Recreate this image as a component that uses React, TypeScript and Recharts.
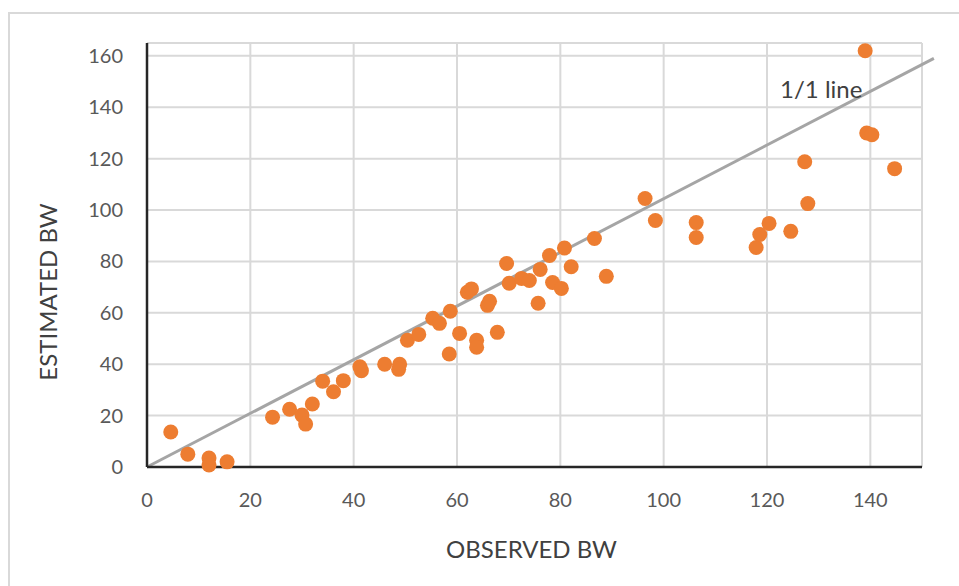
import React from "react";
import {
  ScatterChart,
  Scatter,
  XAxis,
  YAxis,
  CartesianGrid,
  ReferenceLine,
  ReferenceDot,
} from "recharts";

const observedBW = [
  4.6, 7.9, 12.0, 12.0, 15.5, 24.3, 27.6, 30.0, 30.7, 32.0, 34.0, 36.1, 38.0,
  41.2, 41.5, 46.0, 48.9, 48.7, 50.4, 52.6, 55.3, 56.6, 58.7, 58.5, 60.5, 62.0,
  62.8, 63.8, 63.8, 65.9, 66.3, 67.8, 69.6, 70.1, 72.5, 74.0, 75.7, 76.1, 77.9,
  78.5, 80.2, 80.8, 82.1, 86.6, 88.9, 96.4, 98.4, 106.3, 106.3, 117.9, 118.6,
  120.4, 124.6, 127.9, 127.3, 139.0, 139.3, 140.3, 144.7,
];
const estimatedBW = [
  13.6, 5.0, 3.5, 0.8, 2.0, 19.4, 22.5, 20.2, 16.7, 24.5, 33.4, 29.3, 33.6,
  39.0, 37.5, 40.0, 40.0, 38.0, 49.3, 51.6, 57.9, 55.9, 60.6, 44.0, 52.0, 68.0,
  69.3, 49.3, 46.6, 62.9, 64.5, 52.4, 79.2, 71.5, 73.4, 72.6, 63.7, 76.9, 82.3,
  71.8, 69.5, 85.2, 77.9, 88.9, 74.2, 104.5, 95.9, 95.1, 89.3, 85.4, 90.5, 94.8,
  91.7, 102.5, 118.8, 162.0, 130.0, 129.3, 116.1,
];
const xTicks = [0, 20, 40, 60, 80, 100, 120, 140];
const yTicks = [0, 20, 40, 60, 80, 100, 120, 140, 160];
const lineStart = { x: 0, y: 0 };
const lineEnd = { x: 152.3, y: 159 };
const lineLabel = { x: 130.5, y: 147.2, text: "1/1 line" };
const xTitle = "OBSERVED BW";
const yTitle = "ESTIMATED BW";

const points = observedBW.map((x, i) => ({ x, y: estimatedBW[i] }));

const FONT = "Lato, 'Open Sans', sans-serif";
const TEXT = "#595959";

const XTick = (props: any) => (
  <text
    x={props.x}
    y={props.y + 40}
    textAnchor="middle"
    fontFamily={FONT}
    fontSize={20}
    fill={TEXT}
  >
    {props.payload.value}
  </text>
);

const YTick = (props: any) => (
  <text
    x={props.x - 24}
    y={props.y + 7}
    textAnchor="end"
    fontFamily={FONT}
    fontSize={20}
    fill={TEXT}
  >
    {props.payload.value}
  </text>
);

const Dot = (props: any) => (
  <circle cx={props.cx} cy={props.cy} r={7.5} fill="#ED7D31" />
);

export default function App() {
  return (
    <div
      style={{
        position: "absolute",
        left: 0,
        top: 0,
        width: 959,
        height: 586,
        background: "#fff",
        overflow: "hidden",
      }}
    >
      <div
        style={{
          position: "absolute",
          left: 8,
          top: 12,
          width: 1000,
          height: 700,
          borderLeft: "2px solid #d9d9d9",
          borderTop: "2px solid #d9d9d9",
        }}
      />
      <div style={{ position: "absolute", left: 0, top: 0 }}>
        <ScatterChart
          width={959}
          height={586}
          margin={{ top: 43, right: 37, bottom: 59, left: 0 }}
        >
          <CartesianGrid stroke="#d9d9d9" strokeWidth={2} />
          <XAxis
            type="number"
            dataKey="x"
            domain={[0, 150]}
            ticks={xTicks}
            interval={0}
            height={60}
            tickLine={false}
            tickSize={0}
            tickMargin={0}
            axisLine={{ stroke: "#262626", strokeWidth: 2.5 }}
            tick={<XTick />}
            label={{
              content: (p: any) => {
                const vb = p.viewBox;
                return (
                  <text
                    x={vb.x + vb.width / 2 - 3}
                    y={vb.y + 91}
                    textAnchor="middle"
                    fontFamily={FONT}
                    fontSize={24}
                    fill="#404040"
                  >
                    {xTitle}
                  </text>
                );
              },
            }}
          />
          <YAxis
            type="number"
            dataKey="y"
            domain={[0, 165]}
            ticks={yTicks}
            interval={0}
            width={147}
            tickLine={false}
            tickSize={0}
            tickMargin={0}
            axisLine={{ stroke: "#262626", strokeWidth: 2.5 }}
            tick={<YTick />}
            label={{
              content: () => (
                <text
                  x={57}
                  y={292}
                  transform="rotate(-90, 57, 292)"
                  textAnchor="middle"
                  fontFamily={FONT}
                  fontSize={24}
                  fill="#404040"
                >
                  {yTitle}
                </text>
              ),
            }}
          />
          <ReferenceLine
            segment={[lineStart, lineEnd]}
            stroke="#a5a5a5"
            strokeWidth={3}
            ifOverflow="visible"
          />
          <Scatter
            data={points}
            isAnimationActive={false}
            shape={<Dot />}
          />
          <ReferenceDot
            x={lineLabel.x}
            y={lineLabel.y}
            r={0}
            ifOverflow="visible"
            shape={(p: any) => (
              <text
                x={p.cx}
                y={p.cy}
                textAnchor="middle"
                dominantBaseline="central"
                fontFamily={FONT}
                fontSize={24}
                fill="#404040"
              >
                {lineLabel.text}
              </text>
            )}
          />
        </ScatterChart>
      </div>
    </div>
  );
}
